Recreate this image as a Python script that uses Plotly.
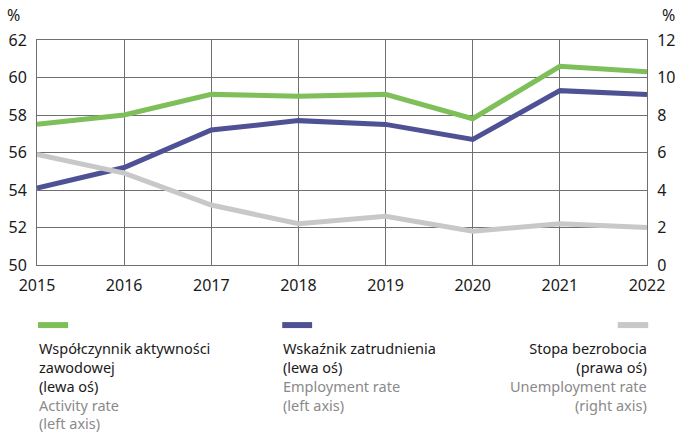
import plotly.graph_objects as go

years = [2015, 2016, 2017, 2018, 2019, 2020, 2021, 2022]
activity_rate = [57.5, 58.0, 59.1, 59.0, 59.1, 57.8, 60.6, 60.3]
employment_rate = [54.1, 55.2, 57.2, 57.7, 57.5, 56.7, 59.3, 59.1]
unemployment_rate = [5.9, 4.9, 3.2, 2.2, 2.6, 1.8, 2.2, 2.0]

left_ticks = [50, 52, 54, 56, 58, 60, 62]
right_ticks = [0, 2, 4, 6, 8, 10, 12]

GREEN = "#7fbf59"
PURPLE = "#4f5195"
GRAY = "#c8c8c8"
SUB = "#8a8a8a"
FONT = "Noto Sans"

fig = go.Figure()
# unemployment first so it sits under the other lines
fig.add_trace(go.Scatter(x=years, y=unemployment_rate, mode="lines",
                         line=dict(color=GRAY, width=5), yaxis="y2"))
fig.add_trace(go.Scatter(x=years, y=activity_rate, mode="lines",
                         line=dict(color=GREEN, width=5), yaxis="y"))
fig.add_trace(go.Scatter(x=years, y=employment_rate, mode="lines",
                         line=dict(color=PURPLE, width=5), yaxis="y"))

axis_common = dict(showline=True, linecolor="#707070", ticks="",
                   zeroline=False, automargin=False)
fig.update_layout(
    width=682, height=433,
    margin=dict(l=37, r=35, t=40, b=168),
    paper_bgcolor="white", plot_bgcolor="white",
    showlegend=False,
    font=dict(family=FONT, size=16, color="#1a1a1a"),
    xaxis=dict(range=[2015, 2022], tickvals=years, showgrid=True,
               gridcolor="#707070", gridwidth=1, mirror=True,
               ticklabelstandoff=6, **axis_common),
    yaxis=dict(range=[50, 62], tickvals=left_ticks, showgrid=True,
               gridcolor="#707070", gridwidth=1, ticklabelstandoff=6,
               **axis_common),
    yaxis2=dict(range=[0, 12], tickvals=right_ticks, overlaying="y",
                side="right", showgrid=False, ticklabelstandoff=6,
                **axis_common),
)

# percent labels above the axes
fig.add_annotation(text="%", xref="paper", yref="paper", x=-0.038, y=1.11,
                   showarrow=False, xanchor="center", yanchor="middle")
fig.add_annotation(text="%", xref="paper", yref="paper", x=1.036, y=1.11,
                   showarrow=False, xanchor="center", yanchor="middle")

# custom legend: line samples
samples = [(0.0016, 0.051, GREEN), (0.402, 0.451, PURPLE), (0.952, 1.002, GRAY)]
for x0, x1, c in samples:
    fig.add_shape(type="line", xref="paper", yref="paper", x0=x0, x1=x1,
                  y0=-0.267, y1=-0.267, line=dict(color=c, width=6))

# custom legend: Polish label in black, English one in grey
legend_texts = [
    ("Współczynnik aktywności<br>zawodowej<br>(lewa oś)",
     "Activity rate<br>(left axis)", 0.0016, "left"),
    ("Wskaźnik zatrudnienia<br>(lewa oś)",
     "Employment rate<br>(left axis)", 0.402, "left"),
    ("Stopa bezrobocia<br>(prawa oś)",
     "Unemployment rate<br>(right axis)", 1.002, "right"),
]
for pl, en, x, side in legend_texts:
    fig.add_annotation(
        text=pl + "<br><span style='color:" + SUB + "'>" + en + "</span>",
        xref="paper", yref="paper", x=x, y=-0.318, showarrow=False,
        xanchor=side, yanchor="top", align=side, borderpad=0,
        font=dict(family=FONT, size=14.5, color="#1a1a1a"))

# drop the browser's default body margin so the figure sits at the page corner
fig.write_html("out.html", config={"displayModeBar": False},
               post_script="document.body.style.margin='0';")
